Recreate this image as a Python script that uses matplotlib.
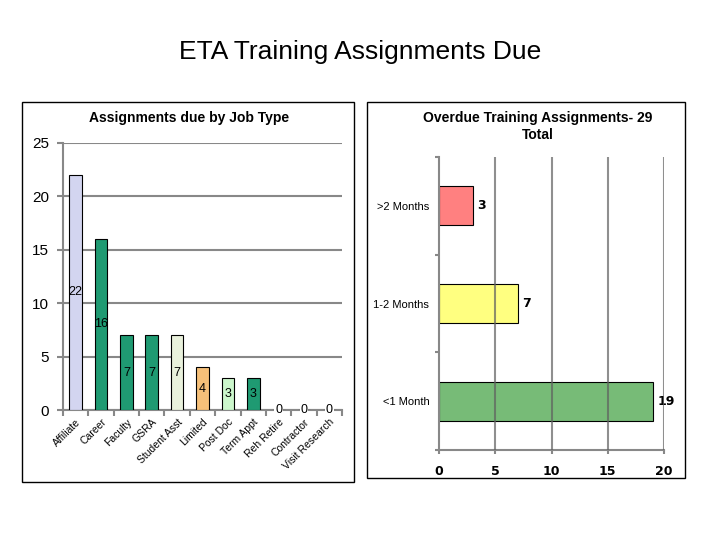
import matplotlib
matplotlib.use("Agg")
import matplotlib.pyplot as plt
from matplotlib.patches import Rectangle

# Left chart: assignments due by job type
job_types = ["Affiliate", "Career", "Faculty", "GSRA", "Student Asst", "Limited",
             "Post Doc", "Term Appt", "Reh Retire", "Contractor", "Visit Research"]
job_counts = [22, 16, 7, 7, 7, 4, 3, 3, 0, 0, 0]
job_colors = ["#d3d5f0", "#1f9a72", "#1f9a72", "#1f9a72", "#e9f1dc", "#f6c079",
              "#ccf7cc", "#1f9a72", "#1f9a72", "#1f9a72", "#1f9a72"]

# Right chart: overdue assignments by age
overdue_labels = ["<1 Month", "1-2 Months", ">2 Months"]
overdue_counts = [19, 7, 3]
overdue_colors = ["#77bb77", "#ffff80", "#ff8080"]

W, H = 720, 540
fig = plt.figure(figsize=(7.2, 5.4), dpi=100)
plt.rcParams['font.family'] = ['Liberation Sans', 'DejaVu Sans']

grid_c = "#888888"

def fx(px):
    return px / W

def fy(py):
    return 1 - py / H

# panel frames
for (x0, y0, x1, y1) in [(22, 102, 354, 482), (367, 102, 685, 478)]:
    fig.patches.append(Rectangle((fx(x0), fy(y1)), fx(x1) - fx(x0), fy(y0) - fy(y1),
                                 transform=fig.transFigure, fill=False,
                                 edgecolor="black", linewidth=1.0))

fig.text(0.5, fy(52), "ETA Training Assignments Due", ha="center", va="center", fontsize=19)

# ---- left chart
ax1 = fig.add_axes([fx(63), fy(410), fx(342) - fx(63), fy(142.7) - fy(410)])
n = len(job_types)
xs = list(range(n))
ax1.bar(xs, job_counts, width=0.5, color=job_colors, edgecolor="black", linewidth=0.8, zorder=3)
for x, v in zip(xs, job_counts):
    ax1.text(x, v / 2.0, str(v), ha="center", va="center", fontsize=9, zorder=4,
             bbox=dict(facecolor="white", edgecolor="none", pad=0.5) if v == 0 else None)
ax1.set_xlim(-0.5, n - 0.5)
ax1.set_ylim(0, 25)
ax1.set_yticks([0, 5, 10, 15, 20, 25])
ax1.yaxis.grid(True, color=grid_c, linewidth=1.5, zorder=0)
ax1.set_axisbelow(True)
ax1.set_xticks([i - 0.5 for i in range(n + 1)])
ax1.set_xticklabels([])
ax1.set_xticks(xs, minor=True)
ax1.set_xticklabels(job_types, minor=True, rotation=45, ha="right",
                    rotation_mode="anchor", fontsize=7.5)
ax1.tick_params(axis="x", which="minor", length=0, pad=5)
ax1.tick_params(axis="x", which="major", length=4, width=1.5, color=grid_c)
ax1.tick_params(axis="y", length=4, width=1.5, color=grid_c, labelsize=11, pad=6)
for s in ["top", "right"]:
    ax1.spines[s].set_visible(False)
for s in ["left", "bottom"]:
    ax1.spines[s].set_color(grid_c)
    ax1.spines[s].set_linewidth(1.5)
fig.text(fx(189), fy(118), "Assignments due by Job Type", ha="center", va="center",
         fontsize=10, fontweight="bold")

# ---- right chart
ax2 = fig.add_axes([fx(439), fy(450), fx(664) - fx(439), fy(157) - fy(450)])
ys = list(range(len(overdue_labels)))
ax2.barh(ys, overdue_counts, height=0.4, color=overdue_colors, edgecolor="black",
         linewidth=0.8, zorder=2)
for y, v in zip(ys, overdue_counts):
    ax2.text(v + 0.4, y, str(v), ha="left", va="center", fontsize=9, fontweight="bold",
             family="DejaVu Sans")
ax2.set_xlim(0, 20)
ax2.set_ylim(-0.5, len(overdue_labels) - 0.5)
ax2.set_xticks([0, 5, 10, 15, 20])
for gx in [5, 10, 15, 20]:
    ax2.axvline(gx, color="#606060", linewidth=1.5, alpha=0.7, zorder=3)
ax2.set_yticks([i - 0.5 for i in range(len(overdue_labels) + 1)])
ax2.set_yticklabels([])
ax2.set_yticks(ys, minor=True)
ax2.set_yticklabels(overdue_labels, minor=True, fontsize=8)
ax2.tick_params(axis="y", which="minor", length=0, pad=7)
ax2.tick_params(axis="y", which="major", length=3, width=1.5, color=grid_c)
ax2.tick_params(axis="x", length=3, width=1.5, color=grid_c, pad=8)
for lbl in ax2.get_xticklabels():
    lbl.set_fontweight("bold")
    lbl.set_fontfamily("DejaVu Sans")
    lbl.set_fontsize(9)
for s in ["top", "right"]:
    ax2.spines[s].set_visible(False)
for s in ["left", "bottom"]:
    ax2.spines[s].set_color(grid_c)
    ax2.spines[s].set_linewidth(1.5)
fig.text(fx(538), fy(126.5), "Overdue Training Assignments- 29\nTotal", ha="center",
         va="center", fontsize=10, fontweight="bold", linespacing=1.3)

fig.savefig("out.png", dpi=100)
